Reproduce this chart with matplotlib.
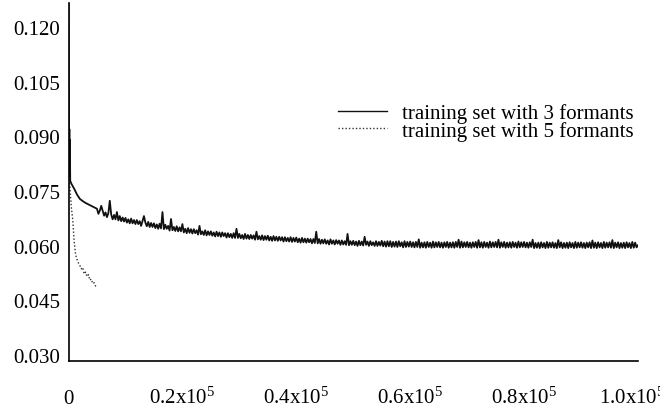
import numpy as np
import matplotlib
matplotlib.use("Agg")
from matplotlib import pyplot as plt
from matplotlib import transforms

# all loss values below are in units of 1e-4
# 3 formants: first iterations (irregular spacing)
iter_early = [0, 100, 150, 200, 250, 300, 500, 1000, 1500, 2000, 2500, 3000, 3500, 4000, 4500]
loss3_early = [1265, 790, 920, 800, 890, 778, 770, 756, 740, 728, 722, 717, 713, 709, 705]
# 3 formants: every 250 iterations from 5000 to 100000
iter_late = np.arange(5000, 100001, 250)
loss3_late = [
    701, 687, 696, 709, 696, 682, 691, 678, 689, 723,
    685, 672, 684, 672, 692, 669, 681, 667, 677, 666,
    676, 663, 672, 661, 674, 661, 670, 659, 670, 659,
    667, 654, 667, 681, 663, 653, 665, 651, 662, 651,
    661, 648, 658, 646, 660, 647, 692, 645, 657, 646,
    654, 641, 673, 642, 651, 640, 653, 639, 650, 639,
    659, 636, 646, 634, 648, 635, 645, 633, 645, 634,
    642, 630, 654, 631, 639, 629, 642, 628, 639, 629,
    639, 627, 636, 625, 638, 626, 636, 624, 636, 626,
    634, 622, 634, 623, 632, 621, 634, 621, 646, 621,
    632, 620, 629, 618, 632, 619, 629, 618, 629, 619,
    628, 616, 638, 617, 626, 616, 628, 615, 626, 616,
    627, 614, 624, 613, 626, 614, 624, 613, 624, 614,
    623, 611, 623, 612, 621, 611, 623, 610, 621, 611,
    622, 609, 619, 608, 621, 609, 619, 608, 619, 609,
    618, 606, 618, 607, 638, 606, 618, 605, 616, 606,
    617, 605, 614, 603, 617, 605, 614, 603, 615, 605,
    614, 602, 614, 603, 612, 602, 632, 601, 612, 602,
    613, 601, 611, 599, 613, 601, 611, 600, 624, 602,
    611, 599, 612, 601, 609, 599, 612, 599, 610, 600,
    613, 598, 611, 597, 612, 598, 612, 596, 610, 597,
    611, 596, 612, 598, 609, 595, 612, 596, 610, 597,
    611, 596, 609, 595, 610, 596, 617, 594, 608, 595,
    609, 594, 610, 596, 608, 594, 611, 595, 609, 596,
    610, 595, 608, 594, 609, 596, 610, 594, 608, 595,
    609, 594, 610, 596, 616, 594, 611, 595, 609, 596,
    610, 595, 608, 594, 609, 596, 610, 594, 615, 595,
    609, 594, 610, 596, 608, 594, 611, 595, 609, 596,
    610, 595, 616, 594, 609, 596, 610, 594, 608, 595,
    609, 594, 610, 596, 608, 594, 611, 595, 609, 596,
    610, 595, 608, 594, 609, 596, 616, 593, 607, 594,
    608, 593, 609, 595, 607, 593, 610, 594, 608, 595,
    609, 594, 607, 593, 615, 595, 609, 593, 607, 594,
    608, 593, 609, 595, 607, 593, 610, 594, 608, 595,
    609, 594, 607, 593, 608, 595, 609, 593, 614, 594,
    608, 593, 609, 595, 607, 593, 610, 594, 608, 595,
    609, 594, 615, 593, 608, 595, 609, 593, 607, 594,
    608, 593, 609, 595, 607, 593, 610, 594, 608, 595,
    601,
]
# 5 formants: every 250 iterations up to 5000
iter5 = np.arange(0, 5001, 250)
loss5 = [800, 760, 705, 670, 610, 575, 562, 552, 545, 536,
         540, 522, 527, 515, 520, 505, 508, 496, 498, 489,
         487]

xticks = [0, 20000, 40000, 60000, 80000, 100000]
xticklabels = ["0", "0.2x10$^{5}$", "0.4x10$^{5}$", "0.6x10$^{5}$", "0.8x10$^{5}$", "1.0x10$^{5}$"]
yticks = [0.030, 0.045, 0.060, 0.075, 0.090, 0.105, 0.120]
labels = ["training set with 3 formants", "training set with 5 formants"]

plt.rcParams["font.family"] = ["Liberation Serif", "DejaVu Serif"]
plt.rcParams["mathtext.fontset"] = "custom"
plt.rcParams["mathtext.rm"] = "Liberation Serif"
plt.rcParams["mathtext.it"] = "Liberation Serif:italic"

fig = plt.figure(figsize=(6.6, 4.14), dpi=100)
ax = fig.add_axes([68.5 / 660, 52 / 414, 569.5 / 660, 358 / 414])

x3 = np.concatenate([iter_early, iter_late])
y3 = np.concatenate([loss3_early, loss3_late]) * 1e-4
ax.plot(x3, y3, color="#111111", lw=1.3, label=labels[0])
ax.plot(iter5, np.array(loss5) * 1e-4, color="#333333", lw=1.0, ls=(0, (1, 1.5)), label=labels[1])

ax.set_xlim(0, 100000)
ax.set_ylim(0.0283, 0.1266)
ax.set_xticks(xticks, xticklabels)
ax.set_yticks(yticks, ["%.3f" % v for v in yticks])
ax.tick_params(length=0, labelsize=15)
ax.tick_params(axis="x", pad=30)
ax.tick_params(axis="y", pad=6)
for s in ["top", "right"]:
    ax.spines[s].set_visible(False)
for s in ["left", "bottom"]:
    ax.spines[s].set_linewidth(1.2)

xlabels = ax.get_xticklabels()
for lbl in xlabels:
    lbl.set_verticalalignment("baseline")
# last label sits a little left of its tick, as in the original
shift = transforms.ScaledTranslation(-6 / 100, 0, fig.dpi_scale_trans)
xlabels[-1].set_transform(xlabels[-1].get_transform() + shift)

leg = ax.legend(loc="upper left", bbox_to_anchor=(338 / 660, 1 - 104 / 414),
                bbox_transform=fig.transFigure, frameon=False, fontsize=15,
                handlelength=2.35, handletextpad=0.7, labelspacing=-0.1,
                borderpad=0, borderaxespad=0)
leg.get_lines()[0].set_linewidth(1.0)

fig.savefig("out.png", dpi=100)
